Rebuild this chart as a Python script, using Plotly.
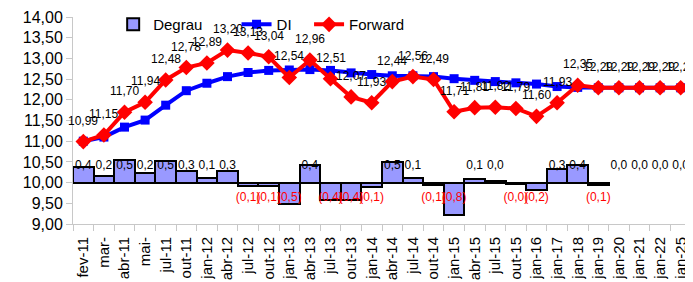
import plotly.graph_objects as go

categories = ["fev-11", "mar-", "abr-11", "mai-", "jul-11", "out-11", "jan-12", "abr-12",
              "jul-12", "out-12", "jan-13", "abr-13", "jul-13", "out-13", "jan-14", "abr-14",
              "jul-14", "out-14", "jan-15", "abr-15", "jul-15", "out-15", "jan-16", "jan-17",
              "jan-18", "jan-19", "jan-20", "jan-21", "jan-22", "jan-25"]

forward = [10.99, 11.15, 11.70, 11.94, 12.48, 12.78, 12.89, 13.20, 13.13, 13.04,
           12.54, 12.96, 12.51, 12.07, 11.93, 12.44, 12.56, 12.49, 11.71, 11.81,
           11.82, 11.79, 11.60, 11.93, 12.35, 12.29, 12.29, 12.29, 12.29, 12.29]

di = [11.00, 11.10, 11.34, 11.51, 11.87, 12.22, 12.40, 12.56, 12.66, 12.71,
      12.72, 12.73, 12.71, 12.65, 12.61, 12.58, 12.58, 12.56, 12.51, 12.47,
      12.44, 12.41, 12.38, 12.32, 12.30, 12.29, 12.29, 12.29, 12.29, 12.29]

degrau = [0.37, 0.16, 0.54, 0.24, 0.53, 0.28, 0.11, 0.28, -0.07, -0.07,
          -0.51, 0.42, -0.43, -0.43, -0.11, 0.50, 0.11, -0.06, -0.78, 0.09,
          0.03, -0.03, -0.19, 0.33, 0.42, -0.06, 0.0, 0.0, 0.0, 0.0]

degrau_base = 10.0
y_ticks = [9.0, 9.5, 10.0, 10.5, 11.0, 11.5, 12.0, 12.5, 13.0, 13.5, 14.0]

FONT = "Liberation Sans, Arial, sans-serif"
NB = "\u00a0"


def fmt(v, d):
    return f"{v:.{d}f}".replace(".", ",")


fig = go.Figure()

fig.add_trace(go.Bar(
    x=categories, y=degrau, base=degrau_base, name="Degrau" + NB * 7,
    marker=dict(color="#9999ff",
                line=dict(color="black", width=[2 if v != 0 else 0 for v in degrau])),
))

fig.add_trace(go.Scatter(
    x=categories, y=di, name="DI" + NB * 3, mode="lines+markers",
    line=dict(color="#0000ff", width=4),
    marker=dict(symbol="square", size=9, color="#0000ff"),
))

fig.add_trace(go.Scatter(
    x=categories, y=forward, name="Forward", mode="lines+markers",
    line=dict(color="#ff0000", width=4),
    marker=dict(symbol="diamond", size=12, color="#ff0000"),
))

# Degrau labels: positive above baseline (black), negative below (red, in parentheses)
pos_x = [c for c, v in zip(categories, degrau) if v >= 0]
pos_t = [fmt(v, 1) for v in degrau if v >= 0]
neg_x = [c for c, v in zip(categories, degrau) if v < 0]
neg_t = ["(" + fmt(-v, 1) + ")" for v in degrau if v < 0]

fig.add_trace(go.Scatter(
    x=pos_x, y=[degrau_base + 0.40] * len(pos_x), text=pos_t, mode="text",
    textfont=dict(color="black", size=12, family=FONT), showlegend=False, hoverinfo="skip",
    cliponaxis=False,
))
fig.add_trace(go.Scatter(
    x=neg_x, y=[degrau_base - 0.36] * len(neg_x), text=neg_t, mode="text",
    textfont=dict(color="#ff0000", size=12, family=FONT), showlegend=False, hoverinfo="skip",
    cliponaxis=False,
))

annotations = []
for c, v in zip(categories, forward):
    annotations.append(dict(
        x=c, y=v, xref="x", yref="y", text=fmt(v, 2), showarrow=False,
        yshift=21, font=dict(size=12, color="black", family=FONT),
    ))

# page body has an 8px margin, so the figure is offset by (8, 8) in the window
fig.update_layout(
    width=685, height=274,
    margin=dict(l=65, r=2, t=9, b=58, autoexpand=False),
    paper_bgcolor="white", plot_bgcolor="white",
    font=dict(family=FONT, color="black"),
    bargap=0,
    showlegend=True,
    legend=dict(orientation="h", x=0.065, y=1.043, xanchor="left", yanchor="top",
                bgcolor="rgba(0,0,0,0)", font=dict(size=15), traceorder="normal"),
    annotations=annotations,
)

fig.update_xaxes(
    type="category", range=[-0.5, len(categories) - 0.5], tickangle=-90, tickfont=dict(size=15),
    showline=True, linecolor="#c8c8c8", linewidth=1,
    ticks="outside", ticklen=6, tickcolor="#c8c8c8", tickson="boundaries",
    ticklabelstandoff=6,
    showgrid=False, automargin=False,
)
fig.update_yaxes(
    range=[9.0, 14.0], tickvals=y_ticks, ticktext=[fmt(v, 2) for v in y_ticks],
    tickfont=dict(size=16),
    showline=True, linecolor="#c8c8c8", linewidth=1,
    ticks="outside", ticklen=6, tickcolor="#c8c8c8",
    showgrid=False, zeroline=False, automargin=False,
)

fig.write_html("out.html")
